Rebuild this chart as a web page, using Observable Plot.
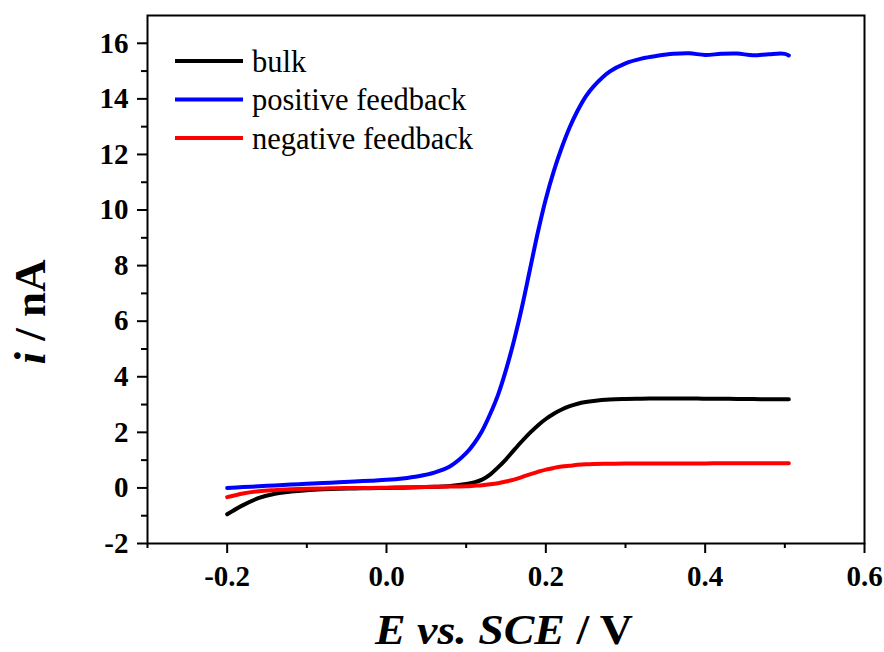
<!DOCTYPE html>
<html><head><meta charset="utf-8">
<script src="https://cdn.jsdelivr.net/npm/d3@7"></script>
<script src="https://cdn.jsdelivr.net/npm/@observablehq/plot@0.6"></script>
<style>body{margin:0;background:#fff;}</style>
</head><body><div id="chart"></div>
<script>
const E = [-0.2, -0.18, -0.16, -0.14, -0.12, -0.1, -0.08, -0.06, -0.04, -0.02, 0, 0.02, 0.04, 0.06, 0.08, 0.1, 0.11, 0.12, 0.13, 0.14, 0.15, 0.16, 0.17, 0.18, 0.19, 0.2, 0.21, 0.22, 0.23, 0.24, 0.25, 0.26, 0.28, 0.3, 0.32, 0.34, 0.36, 0.38, 0.4, 0.42, 0.44, 0.46, 0.48, 0.5, 0.505];
const bulk = [-0.95, -0.62, -0.36, -0.21, -0.13, -0.08, -0.05, -0.03, -0.02, -0.01, 0.0, 0.01, 0.02, 0.04, 0.07, 0.14, 0.2, 0.3, 0.48, 0.74, 1.03, 1.36, 1.68, 1.98, 2.25, 2.48, 2.67, 2.82, 2.94, 3.03, 3.09, 3.13, 3.18, 3.2, 3.21, 3.22, 3.22, 3.22, 3.21, 3.21, 3.2, 3.2, 3.19, 3.19, 3.19];
const positive = [0.0, 0.03, 0.06, 0.09, 0.12, 0.15, 0.18, 0.2, 0.23, 0.26, 0.29, 0.34, 0.42, 0.55, 0.78, 1.25, 1.6, 2.05, 2.65, 3.35, 4.25, 5.3, 6.5, 7.85, 9.2, 10.4, 11.4, 12.25, 12.98, 13.58, 14.08, 14.45, 14.98, 15.28, 15.45, 15.55, 15.62, 15.64, 15.58, 15.62, 15.63, 15.57, 15.61, 15.62, 15.56];
const negative = [-0.33, -0.2, -0.12, -0.08, -0.05, -0.03, -0.02, -0.01, 0.0, 0.0, 0.01, 0.02, 0.03, 0.04, 0.05, 0.06, 0.08, 0.1, 0.13, 0.17, 0.23, 0.3, 0.39, 0.49, 0.58, 0.66, 0.72, 0.77, 0.8, 0.83, 0.85, 0.86, 0.87, 0.88, 0.88, 0.88, 0.88, 0.88, 0.88, 0.89, 0.89, 0.89, 0.89, 0.89, 0.89];
const seriesNames = ["bulk", "positive feedback", "negative feedback"];
const seriesColors = ["#000000", "#0000ff", "#ff0000"];
const xTicks = [-0.2, 0.0, 0.2, 0.4, 0.6];
const xMinorTicks = [-0.3, -0.1, 0.1, 0.3, 0.5];
const yTicks = [-2, 0, 2, 4, 6, 8, 10, 12, 14, 16];
const yMinorTicks = [-1, 1, 3, 5, 7, 9, 11, 13, 15];

const seriesValues = [bulk, positive, negative];
const data = [];
seriesNames.forEach((name, s) => {
  E.forEach((e, k) => data.push({E: e, i: seriesValues[s][k], series: name}));
});

const serif = "'Liberation Serif','Times New Roman',serif";
const plot = Plot.plot({
  width: 884, height: 652,
  marginLeft: 147, marginRight: 20, marginTop: 15, marginBottom: 109,
  x: {domain: [-0.3, 0.6]},
  y: {domain: [-2, 17]},
  color: {domain: seriesNames, range: seriesColors},
  style: {fontFamily: serif, background: "white", color: "black"},
  marks: [
    Plot.line(data, {x: "E", y: "i", z: "series", stroke: "series", strokeWidth: 4, curve: "catmull-rom"}),
    Plot.frame({stroke: "black", strokeWidth: 2}),
    Plot.axisX(xTicks, {tickSize: 10, tickPadding: 12, strokeWidth: 2, tickFormat: d => d.toFixed(1), fontSize: 29, fontWeight: "bold", label: null}),
    Plot.axisX(xMinorTicks, {tickSize: 5, strokeWidth: 2, tickFormat: () => "", label: null}),
    Plot.axisY(yTicks, {tickSize: 10, tickPadding: 9, strokeWidth: 2, tickFormat: d => String(d), fontSize: 29, fontWeight: "bold", label: null}),
    Plot.axisY(yMinorTicks, {tickSize: 6, strokeWidth: 2, tickFormat: () => "", label: null})
  ]
});

const svg = d3.select(plot);
// Axis titles
const xt = svg.append("text").attr("x", 504).attr("y", 644).attr("text-anchor", "middle")
  .attr("textLength", 258).attr("lengthAdjust", "spacingAndGlyphs")
  .attr("font-family", serif).attr("font-size", 43).attr("font-weight", "bold").attr("fill", "black");
xt.append("tspan").attr("font-style", "italic").text("E vs. SCE");
xt.append("tspan").text(" / V");
const yt = svg.append("text").attr("transform", "translate(45,312) rotate(-90)").attr("text-anchor", "middle")
  .attr("font-family", serif).attr("font-size", 45).attr("font-weight", "bold").attr("fill", "black");
yt.append("tspan").attr("font-style", "italic").text("i");
yt.append("tspan").text(" / nA");

// Legend
const lg = svg.append("g").attr("transform", "translate(175,61)");
seriesNames.forEach((name, k) => {
  const g = lg.append("g").attr("transform", `translate(0,${k * 38.5})`);
  g.append("line").attr("x1", 0).attr("x2", 68).attr("y1", 0).attr("y2", 0)
    .attr("stroke", seriesColors[k]).attr("stroke-width", 4);
  g.append("text").attr("x", 77).attr("y", 10.5).attr("text-anchor", "start")
    .attr("font-family", serif).attr("font-size", 30.5).attr("font-weight", "normal")
    .attr("fill", "black").text(name);
});

document.getElementById("chart").appendChild(plot);
</script>
</body></html>
